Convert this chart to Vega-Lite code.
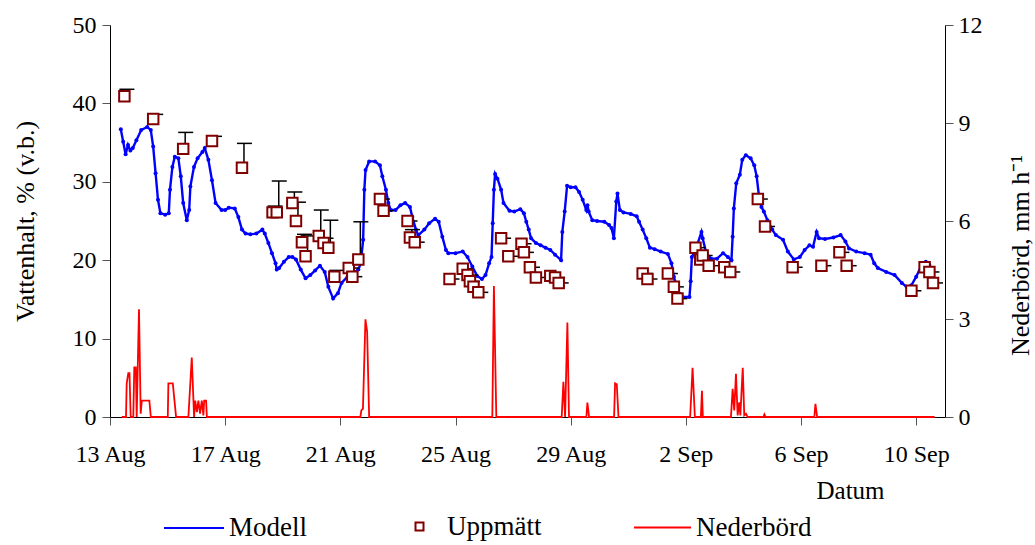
{
  "$schema": "https://vega.github.io/schema/vega-lite/v6.json",
  "width": 835,
  "height": 392,
  "autosize": "none",
  "padding": {"left": 110, "top": 25, "right": 90, "bottom": 128},
  "background": "white",
  "config": {
    "font": "Liberation Serif",
    "view": {"stroke": null},
    "axis": {
      "grid": false,
      "labelFont": "Liberation Serif",
      "titleFont": "Liberation Serif",
      "labelColor": "black",
      "titleColor": "black",
      "titleFontWeight": "normal",
      "labelFontSize": 24,
      "titleFontSize": 26,
      "domainColor": "#000000",
      "tickColor": "#555555",
      "tickSize": 8,
      "labelFlush": false,
      "labelOverlap": false
    },
    "legend": {"labelFont": "Liberation Serif", "labelFontSize": 27, "labelColor": "black", "padding": 0}
  },
  "datasets": {
    "modell": [
      {"t":"2008-08-13T09:00","v":36.7},{"t":"2008-08-13T11:00","v":35.1},{"t":"2008-08-13T13:00","v":33.5},{"t":"2008-08-13T15:00","v":34.7},
      {"t":"2008-08-13T17:00","v":34.0},{"t":"2008-08-13T19:00","v":34.3},{"t":"2008-08-13T22:00","v":35.3},{"t":"2008-08-14T02:00","v":36.6},
      {"t":"2008-08-14T07:00","v":37.0},{"t":"2008-08-14T10:00","v":36.6},{"t":"2008-08-14T12:00","v":34.5},{"t":"2008-08-14T14:00","v":31.1},
      {"t":"2008-08-14T16:00","v":27.7},{"t":"2008-08-14T18:00","v":26.0},{"t":"2008-08-14T22:00","v":25.8},{"t":"2008-08-15T01:00","v":26.0},
      {"t":"2008-08-15T02:00","v":29.0},{"t":"2008-08-15T04:00","v":31.9},{"t":"2008-08-15T06:00","v":33.2},{"t":"2008-08-15T09:00","v":33.0},
      {"t":"2008-08-15T11:00","v":30.7},{"t":"2008-08-15T13:00","v":27.3},{"t":"2008-08-15T16:00","v":25.1},{"t":"2008-08-15T18:00","v":26.4},
      {"t":"2008-08-15T19:00","v":29.4},{"t":"2008-08-15T22:00","v":31.9},{"t":"2008-08-16T01:00","v":33.0},{"t":"2008-08-16T05:00","v":33.8},
      {"t":"2008-08-16T07:00","v":34.3},{"t":"2008-08-16T10:00","v":32.8},{"t":"2008-08-16T13:00","v":30.2},{"t":"2008-08-16T16:00","v":27.3},
      {"t":"2008-08-16T21:00","v":26.4},{"t":"2008-08-17T00:00","v":26.4},{"t":"2008-08-17T03:00","v":26.7},{"t":"2008-08-17T08:00","v":26.6},
      {"t":"2008-08-17T11:00","v":25.5},{"t":"2008-08-17T14:00","v":23.9},{"t":"2008-08-17T17:00","v":23.4},{"t":"2008-08-17T21:00","v":23.3},
      {"t":"2008-08-18T02:00","v":23.4},{"t":"2008-08-18T07:00","v":23.9},{"t":"2008-08-18T09:00","v":23.4},{"t":"2008-08-18T12:00","v":22.2},
      {"t":"2008-08-18T15:00","v":20.9},{"t":"2008-08-18T18:00","v":19.6},{"t":"2008-08-18T19:00","v":18.8},{"t":"2008-08-18T21:00","v":19.0},
      {"t":"2008-08-19T01:00","v":19.8},{"t":"2008-08-19T05:00","v":20.4},{"t":"2008-08-19T08:00","v":20.4},{"t":"2008-08-19T11:00","v":20.1},
      {"t":"2008-08-19T15:00","v":18.8},{"t":"2008-08-19T19:00","v":17.7},{"t":"2008-08-19T23:00","v":18.1},{"t":"2008-08-20T03:00","v":18.7},
      {"t":"2008-08-20T07:00","v":19.3},{"t":"2008-08-20T11:00","v":18.5},{"t":"2008-08-20T14:00","v":16.6},{"t":"2008-08-20T18:00","v":15.1},
      {"t":"2008-08-20T22:00","v":15.8},{"t":"2008-08-21T01:00","v":17.1},{"t":"2008-08-21T06:00","v":17.9},{"t":"2008-08-21T10:00","v":18.3},
      {"t":"2008-08-21T15:00","v":18.8},{"t":"2008-08-21T17:00","v":19.6},{"t":"2008-08-21T19:00","v":22.6},{"t":"2008-08-21T20:00","v":29.0},
      {"t":"2008-08-21T21:00","v":31.5},{"t":"2008-08-22T00:00","v":32.6},{"t":"2008-08-22T05:00","v":32.6},{"t":"2008-08-22T09:00","v":32.1},
      {"t":"2008-08-22T11:00","v":30.7},{"t":"2008-08-22T14:00","v":29.0},{"t":"2008-08-22T16:00","v":27.3},{"t":"2008-08-22T18:00","v":26.4},
      {"t":"2008-08-22T22:00","v":26.4},{"t":"2008-08-23T02:00","v":27.0},{"t":"2008-08-23T06:00","v":27.3},{"t":"2008-08-23T10:00","v":26.8},
      {"t":"2008-08-23T12:00","v":25.5},{"t":"2008-08-23T15:00","v":23.9},{"t":"2008-08-23T17:00","v":23.2},{"t":"2008-08-23T22:00","v":23.9},
      {"t":"2008-08-24T02:00","v":24.7},{"t":"2008-08-24T07:00","v":25.3},{"t":"2008-08-24T10:00","v":24.9},{"t":"2008-08-24T13:00","v":23.0},
      {"t":"2008-08-24T16:00","v":21.3},{"t":"2008-08-24T18:00","v":20.9},{"t":"2008-08-25T00:00","v":20.9},{"t":"2008-08-25T06:00","v":21.1},
      {"t":"2008-08-25T10:00","v":20.4},{"t":"2008-08-25T14:00","v":19.2},{"t":"2008-08-25T18:00","v":18.0},{"t":"2008-08-25T22:00","v":17.6},
      {"t":"2008-08-26T01:00","v":18.1},{"t":"2008-08-26T04:00","v":19.6},{"t":"2008-08-26T06:00","v":20.4},{"t":"2008-08-26T07:00","v":24.7},
      {"t":"2008-08-26T08:00","v":29.0},{"t":"2008-08-26T09:00","v":31.0},{"t":"2008-08-26T11:00","v":30.4},{"t":"2008-08-26T14:00","v":29.0},
      {"t":"2008-08-26T16:00","v":27.3},{"t":"2008-08-26T21:00","v":26.3},{"t":"2008-08-27T01:00","v":26.2},{"t":"2008-08-27T06:00","v":26.5},
      {"t":"2008-08-27T09:00","v":26.0},{"t":"2008-08-27T11:00","v":24.9},{"t":"2008-08-27T13:00","v":23.9},{"t":"2008-08-27T15:00","v":22.8},
      {"t":"2008-08-27T19:00","v":22.2},{"t":"2008-08-27T23:00","v":21.9},{"t":"2008-08-28T03:00","v":21.6},{"t":"2008-08-28T07:00","v":21.3},
      {"t":"2008-08-28T11:00","v":20.7},{"t":"2008-08-28T16:00","v":20.0},{"t":"2008-08-28T17:00","v":23.6},{"t":"2008-08-28T19:00","v":26.2},
      {"t":"2008-08-28T21:00","v":29.5},{"t":"2008-08-29T00:00","v":29.3},{"t":"2008-08-29T04:00","v":29.3},{"t":"2008-08-29T07:00","v":28.7},
      {"t":"2008-08-29T10:00","v":27.7},{"t":"2008-08-29T13:00","v":26.4},{"t":"2008-08-29T14:00","v":27.0},{"t":"2008-08-29T15:00","v":26.2},
      {"t":"2008-08-29T18:00","v":25.1},{"t":"2008-08-29T22:00","v":25.0},{"t":"2008-08-30T04:00","v":24.9},{"t":"2008-08-30T08:00","v":24.5},
      {"t":"2008-08-30T10:00","v":24.1},{"t":"2008-08-30T12:00","v":22.8},{"t":"2008-08-30T14:00","v":27.5},{"t":"2008-08-30T15:00","v":28.5},
      {"t":"2008-08-30T17:00","v":26.4},{"t":"2008-08-30T20:00","v":26.1},{"t":"2008-08-31T02:00","v":25.9},{"t":"2008-08-31T07:00","v":25.6},
      {"t":"2008-08-31T09:00","v":24.9},{"t":"2008-08-31T12:00","v":23.9},{"t":"2008-08-31T15:00","v":22.8},{"t":"2008-08-31T18:00","v":21.6},
      {"t":"2008-08-31T22:00","v":21.4},{"t":"2008-09-01T03:00","v":21.1},{"t":"2008-09-01T09:00","v":20.8},{"t":"2008-09-01T12:00","v":19.6},
      {"t":"2008-09-01T14:00","v":17.9},{"t":"2008-09-01T17:00","v":16.2},{"t":"2008-09-01T21:00","v":15.3},{"t":"2008-09-02T03:00","v":15.3},
      {"t":"2008-09-02T04:00","v":17.3},{"t":"2008-09-02T05:00","v":20.4},{"t":"2008-09-02T08:00","v":21.3},{"t":"2008-09-02T13:00","v":23.6},
      {"t":"2008-09-02T14:00","v":22.8},{"t":"2008-09-02T17:00","v":20.9},{"t":"2008-09-02T21:00","v":20.2},{"t":"2008-09-03T02:00","v":20.2},
      {"t":"2008-09-03T07:00","v":20.9},{"t":"2008-09-03T11:00","v":20.4},{"t":"2008-09-03T14:00","v":20.0},{"t":"2008-09-03T15:00","v":23.0},
      {"t":"2008-09-03T16:00","v":26.6},{"t":"2008-09-03T18:00","v":29.8},{"t":"2008-09-03T21:00","v":30.9},{"t":"2008-09-03T23:00","v":32.8},
      {"t":"2008-09-04T02:00","v":33.4},{"t":"2008-09-04T06:00","v":33.0},{"t":"2008-09-04T09:00","v":32.1},{"t":"2008-09-04T11:00","v":30.7},
      {"t":"2008-09-04T13:00","v":28.1},{"t":"2008-09-04T15:00","v":26.8},{"t":"2008-09-04T17:00","v":26.2},{"t":"2008-09-04T20:00","v":25.1},
      {"t":"2008-09-05T00:00","v":23.9},{"t":"2008-09-05T03:00","v":23.2},{"t":"2008-09-05T09:00","v":22.6},{"t":"2008-09-05T13:00","v":21.1},
      {"t":"2008-09-05T18:00","v":20.1},{"t":"2008-09-05T23:00","v":20.4},{"t":"2008-09-06T03:00","v":21.3},{"t":"2008-09-06T07:00","v":21.9},
      {"t":"2008-09-06T10:00","v":21.7},{"t":"2008-09-06T13:00","v":23.6},{"t":"2008-09-06T15:00","v":22.8},{"t":"2008-09-06T20:00","v":22.7},
      {"t":"2008-09-07T03:00","v":22.9},{"t":"2008-09-07T09:00","v":23.2},{"t":"2008-09-07T13:00","v":22.4},{"t":"2008-09-07T16:00","v":21.5},
      {"t":"2008-09-07T22:00","v":21.1},{"t":"2008-09-08T05:00","v":20.9},{"t":"2008-09-08T10:00","v":20.7},{"t":"2008-09-08T13:00","v":19.6},
      {"t":"2008-09-08T16:00","v":19.0},{"t":"2008-09-08T23:00","v":18.5},{"t":"2008-09-09T06:00","v":18.1},{"t":"2008-09-09T12:00","v":17.1},
      {"t":"2008-09-09T16:00","v":16.6},{"t":"2008-09-09T20:00","v":16.8},{"t":"2008-09-10T00:00","v":17.9},{"t":"2008-09-10T04:00","v":19.2},
      {"t":"2008-09-10T08:00","v":19.8},{"t":"2008-09-10T11:00","v":19.4}
    ],
    "matt": [
      {"t":"2008-08-13T12:00","v":40.9,"u":41.8},{"t":"2008-08-14T12:00","v":38.0,"u":38.6},{"t":"2008-08-15T13:00","v":34.2,"u":36.3},
      {"t":"2008-08-16T13:00","v":35.2,"u":35.8},{"t":"2008-08-17T14:00","v":31.8,"u":34.9},{"t":"2008-08-18T15:30","v":26.1,"u":26.9},
      {"t":"2008-08-18T19:00","v":26.1,"u":30.1},{"t":"2008-08-19T08:00","v":27.3,"u":28.7},{"t":"2008-08-19T11:00","v":25.0,"u":27.4},
      {"t":"2008-08-19T16:00","v":22.3,"u":23.3},{"t":"2008-08-19T19:00","v":20.5,"u":23.1},{"t":"2008-08-20T06:00","v":23.1,"u":26.4},
      {"t":"2008-08-20T10:00","v":22.2,"u":22.8},{"t":"2008-08-20T14:00","v":21.6,"u":25.1},{"t":"2008-08-20T19:00","v":17.9,"u":18.7},
      {"t":"2008-08-21T07:00","v":19.0,"u":19.0},{"t":"2008-08-21T10:00","v":17.9,"u":17.9},{"t":"2008-08-21T15:00","v":20.1,"u":24.9},
      {"t":"2008-08-22T09:00","v":27.8,"u":27.8},{"t":"2008-08-22T12:00","v":26.3,"u":26.3},{"t":"2008-08-23T08:00","v":25.0,"u":25.0},
      {"t":"2008-08-23T10:00","v":22.9,"u":23.9},{"t":"2008-08-23T14:00","v":22.3,"u":22.3},{"t":"2008-08-24T19:00","v":17.6,"u":17.6},
      {"t":"2008-08-25T06:00","v":18.9,"u":18.9},{"t":"2008-08-25T10:00","v":18.1,"u":18.1},{"t":"2008-08-25T12:00","v":17.3,"u":17.3},
      {"t":"2008-08-25T15:00","v":16.6,"u":16.6},{"t":"2008-08-25T19:00","v":15.9,"u":15.9},{"t":"2008-08-26T14:00","v":22.8,"u":22.8},
      {"t":"2008-08-26T20:00","v":20.5,"u":20.5},{"t":"2008-08-27T07:00","v":22.1,"u":22.1},{"t":"2008-08-27T09:00","v":21.0,"u":21.0},
      {"t":"2008-08-27T14:00","v":19.1,"u":19.1},{"t":"2008-08-27T19:00","v":17.8,"u":17.8},{"t":"2008-08-28T07:00","v":18.0,"u":18.0},
      {"t":"2008-08-28T11:00","v":17.8,"u":17.8},{"t":"2008-08-28T14:00","v":17.1,"u":17.1},{"t":"2008-08-31T12:00","v":18.3,"u":18.3},
      {"t":"2008-08-31T16:00","v":17.6,"u":17.6},{"t":"2008-09-01T09:00","v":18.3,"u":18.3},{"t":"2008-09-01T14:00","v":16.6,"u":16.6},
      {"t":"2008-09-01T17:00","v":15.1,"u":15.1},{"t":"2008-09-02T08:00","v":21.6,"u":21.6},{"t":"2008-09-02T12:00","v":20.1,"u":20.1},
      {"t":"2008-09-02T14:00","v":20.6,"u":20.6},{"t":"2008-09-02T19:00","v":19.3,"u":19.3},{"t":"2008-09-03T08:00","v":19.1,"u":19.1},
      {"t":"2008-09-03T13:00","v":18.5,"u":18.5},{"t":"2008-09-04T12:00","v":27.8,"u":27.8},{"t":"2008-09-04T18:00","v":24.3,"u":24.3},
      {"t":"2008-09-05T17:00","v":19.1,"u":19.1},{"t":"2008-09-06T17:00","v":19.3,"u":19.3},{"t":"2008-09-07T08:00","v":21.0,"u":21.0},
      {"t":"2008-09-07T14:00","v":19.3,"u":19.3},{"t":"2008-09-09T20:00","v":16.1,"u":16.1},{"t":"2008-09-10T07:00","v":19.1,"u":19.1},
      {"t":"2008-09-10T11:00","v":18.5,"u":18.5},{"t":"2008-09-10T14:00","v":17.1,"u":17.1}
    ],
    "neder": [
      {"t":"2008-08-13T09:45","p":0},{"t":"2008-08-13T13:20","p":0},{"t":"2008-08-13T13:55","p":1.03},{"t":"2008-08-13T15:15","p":1.34},
      {"t":"2008-08-13T16:15","p":1.34},{"t":"2008-08-13T17:15","p":0},{"t":"2008-08-13T19:25","p":0},{"t":"2008-08-13T20:15","p":1.52},
      {"t":"2008-08-13T21:30","p":1.52},{"t":"2008-08-13T22:15","p":0},{"t":"2008-08-14T00:10","p":3.3},{"t":"2008-08-14T01:35","p":0.1},
      {"t":"2008-08-14T02:30","p":0.5},{"t":"2008-08-14T08:50","p":0.5},{"t":"2008-08-14T10:00","p":0},
      {"t":"2008-08-15T00:10","p":0},{"t":"2008-08-15T00:40","p":1.03},{"t":"2008-08-15T04:20","p":1.03},{"t":"2008-08-15T07:05","p":0},
      {"t":"2008-08-15T17:20","p":0},{"t":"2008-08-15T20:10","p":1.82},{"t":"2008-08-15T22:05","p":0},{"t":"2008-08-15T23:00","p":0.5},
      {"t":"2008-08-16T00:25","p":0.15},{"t":"2008-08-16T01:40","p":0.5},{"t":"2008-08-16T03:05","p":0.1},{"t":"2008-08-16T04:30","p":0.5},
      {"t":"2008-08-16T05:50","p":0.05},{"t":"2008-08-16T06:30","p":0.5},{"t":"2008-08-16T08:05","p":0.5},{"t":"2008-08-16T08:45","p":0},
      {"t":"2008-08-21T16:40","p":0},{"t":"2008-08-21T17:30","p":0.2},{"t":"2008-08-21T18:50","p":0.25},{"t":"2008-08-21T20:55","p":2.99},
      {"t":"2008-08-21T22:20","p":2.61},{"t":"2008-08-22T00:00","p":0},
      {"t":"2008-08-26T06:40","p":0},{"t":"2008-08-26T08:00","p":4.01},{"t":"2008-08-26T10:00","p":0},
      {"t":"2008-08-28T16:30","p":0},{"t":"2008-08-28T17:55","p":1.08},{"t":"2008-08-28T19:20","p":0},{"t":"2008-08-28T21:15","p":2.89},
      {"t":"2008-08-28T22:35","p":0},
      {"t":"2008-08-29T13:05","p":0},{"t":"2008-08-29T13:55","p":0.44},{"t":"2008-08-29T15:20","p":0},
      {"t":"2008-08-30T12:10","p":0},{"t":"2008-08-30T13:00","p":1.03},{"t":"2008-08-30T14:25","p":1.0},{"t":"2008-08-30T15:50","p":0},
      {"t":"2008-09-02T03:35","p":0},{"t":"2008-09-02T05:35","p":1.51},{"t":"2008-09-02T07:30","p":0},
      {"t":"2008-09-02T12:30","p":0},{"t":"2008-09-02T13:25","p":0.8},{"t":"2008-09-02T14:10","p":0},
      {"t":"2008-09-03T13:35","p":0},{"t":"2008-09-03T15:00","p":0.86},{"t":"2008-09-03T16:20","p":0.2},{"t":"2008-09-03T17:45","p":1.32},
      {"t":"2008-09-03T19:10","p":0.05},{"t":"2008-09-03T20:30","p":0.45},{"t":"2008-09-03T21:25","p":0.05},{"t":"2008-09-03T23:25","p":1.51},
      {"t":"2008-09-04T00:40","p":0.05},{"t":"2008-09-04T02:05","p":0.1},{"t":"2008-09-04T03:30","p":0},
      {"t":"2008-09-04T16:40","p":0},{"t":"2008-09-04T17:25","p":0.08},{"t":"2008-09-04T18:25","p":0},
      {"t":"2008-09-06T11:05","p":0},{"t":"2008-09-06T12:00","p":0.4},{"t":"2008-09-06T13:25","p":0},
      {"t":"2008-09-10T15:20","p":0}
    ]
  },
  "layer": [
    {
      "layer": [
        {
          "data": {"name": "modell"},
          "mark": {"type": "line", "strokeWidth": 2.4, "point": {"filled": true, "size": 16}},
          "encoding": {
            "x": {
              "field": "t", "type": "temporal",
              "scale": {"domain": [{"year": 2008, "month": 8, "date": 13}, {"year": 2008, "month": 9, "date": 11}]},
              "axis": {
                "values": [
                  {"year": 2008, "month": 8, "date": 13}, {"year": 2008, "month": 8, "date": 17},
                  {"year": 2008, "month": 8, "date": 21}, {"year": 2008, "month": 8, "date": 25},
                  {"year": 2008, "month": 8, "date": 29}, {"year": 2008, "month": 9, "date": 2},
                  {"year": 2008, "month": 9, "date": 6}, {"year": 2008, "month": 9, "date": 10}
                ],
                "format": "%-d %b",
                "title": "Datum",
                "titleFontSize": 25,
                "titleX": 740,
                "titleY": 73,
                "titleAlign": "center",
                "titleBaseline": "middle",
                "labelPadding": 17
              }
            },
            "y": {
              "field": "v", "type": "quantitative",
              "scale": {"domain": [0, 50]},
              "axis": {
                "values": [0, 10, 20, 30, 40, 50],
                "title": "Vattenhalt, % (v.b.)",
                "titleX": -85,
                "titleY": 196,
                "titleAngle": 270,
                "titleAlign": "center",
                "titleBaseline": "middle",
                "labelPadding": 6
              }
            },
            "color": {
              "datum": "Modell",
              "scale": {"range": ["#0000FF"]},
              "legend": {
                "title": null, "orient": "none", "legendX": 53, "legendY": 472,
                "symbolType": "stroke", "symbolSize": 3600, "symbolStrokeWidth": 2,
                "symbolStrokeColor": "#0000FF", "labelOffset": 4
              }
            }
          }
        },
        {
          "data": {"name": "matt"},
          "mark": {"type": "rule", "color": "black", "strokeWidth": 1.5, "xOffset": 2},
          "encoding": {
            "x": {"field": "t", "type": "temporal"},
            "y": {"field": "v", "type": "quantitative"},
            "y2": {"field": "u"}
          }
        },
        {
          "data": {"name": "matt"},
          "mark": {"type": "tick", "orient": "horizontal", "color": "black", "thickness": 1.5, "size": 15, "xOffset": 2.5, "opacity": 1},
          "encoding": {
            "x": {"field": "t", "type": "temporal"},
            "y": {"field": "u", "type": "quantitative"}
          }
        },
        {
          "data": {"name": "matt"},
          "mark": {"type": "point", "shape": "square", "filled": false, "fill": "white", "strokeWidth": 2, "size": 110, "opacity": 1},
          "encoding": {
            "x": {"field": "t", "type": "temporal"},
            "y": {"field": "v", "type": "quantitative"},
            "stroke": {
              "datum": "Uppmätt",
              "scale": {"range": ["#800000"]},
              "legend": {
                "title": null, "orient": "none", "legendX": 296, "legendY": 488,
                "symbolType": "square", "symbolSize": 64, "symbolFillColor": "white",
                "symbolStrokeWidth": 2, "symbolOpacity": 1, "labelOffset": 14
              }
            }
          }
        }
      ]
    },
    {
      "data": {"name": "neder"},
      "mark": {"type": "line", "color": "#FF0000", "strokeWidth": 1.8},
      "encoding": {
        "x": {"field": "t", "type": "temporal"},
        "y": {
          "field": "p", "type": "quantitative",
          "scale": {"domain": [0, 12]},
          "axis": {
            "orient": "right",
            "values": [0, 3, 6, 9, 12],
            "title": "Nederbörd, mm h⁻¹",
            "titleX": 75,
            "titleY": 230,
            "titleAngle": 270,
            "titleAlign": "center",
            "titleBaseline": "middle",
            "labelPadding": 5
          }
        },
        "strokeDash": {
          "datum": "Nederbörd",
          "scale": {"range": [[1, 0]]},
          "legend": {
            "title": null, "orient": "none", "legendX": 523, "legendY": 473,
            "symbolType": "stroke", "symbolSize": 3249, "symbolStrokeWidth": 2,
            "symbolStrokeColor": "#FF0000", "labelOffset": 4
          }
        }
      }
    }
  ],
  "resolve": {"scale": {"y": "independent"}}
}
